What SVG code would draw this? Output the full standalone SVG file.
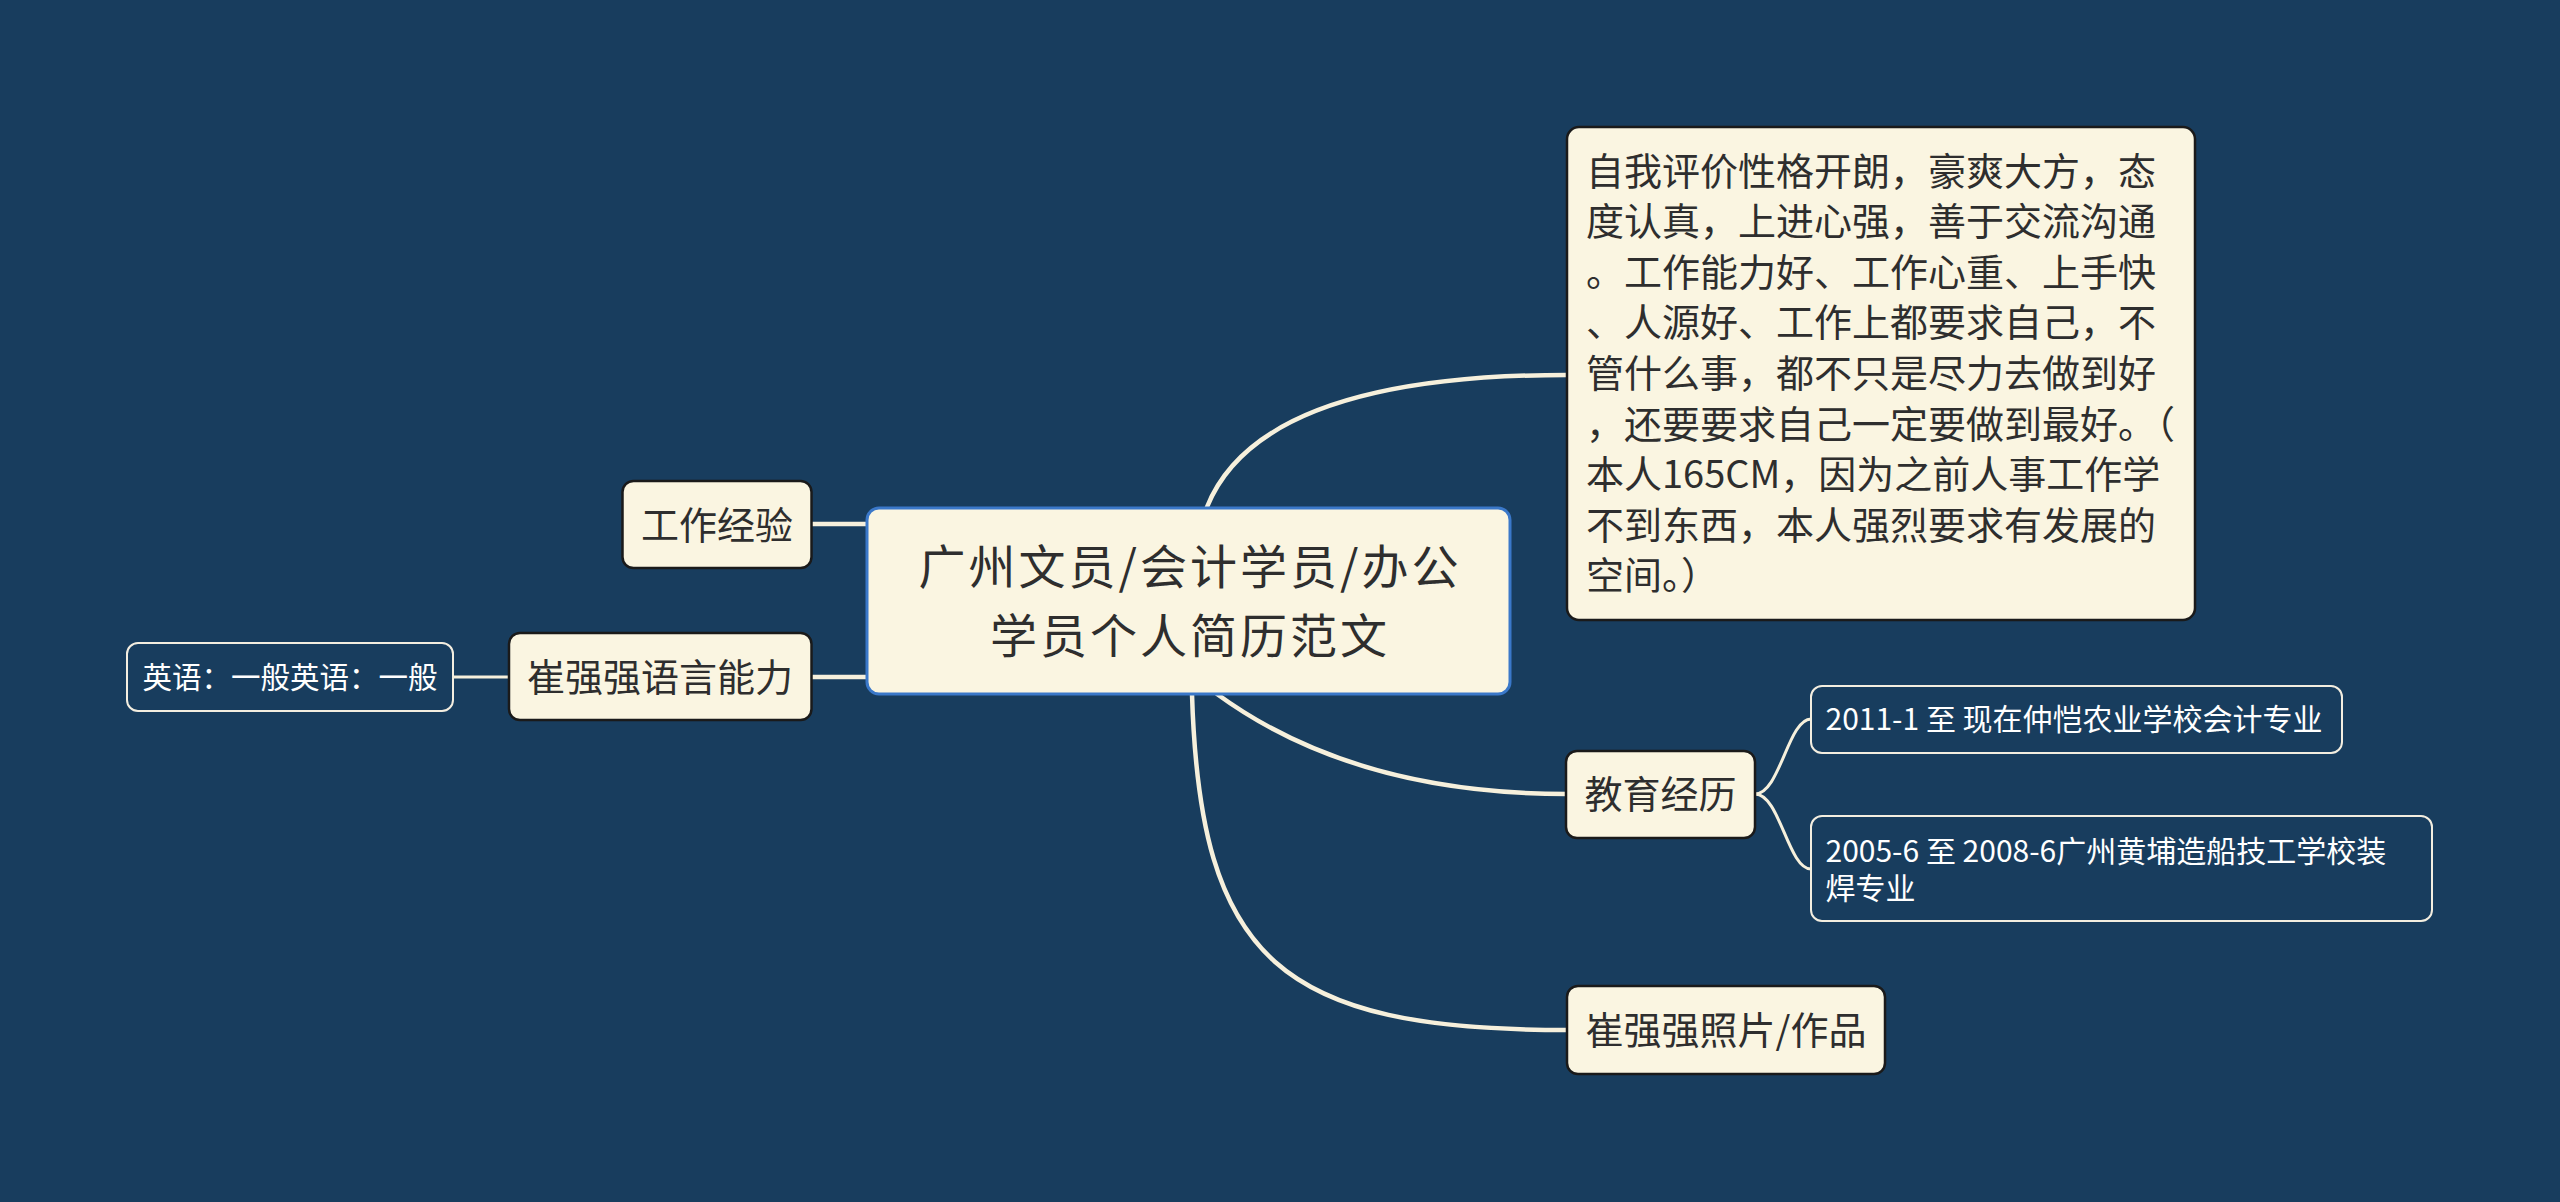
<svg xmlns="http://www.w3.org/2000/svg" width="2560" height="1202" viewBox="0 0 2560 1202">
<defs>
<style>
.bg{fill:#183d5e}
.conn{fill:none;stroke:#f6f0dc;stroke-linecap:round}
.main{stroke-width:4.5}
.sub{stroke-width:3}
.cream rect{fill:#faf5e1;stroke:#1a1a1a;stroke-width:2.5}
.center rect{fill:#faf5e1;stroke:#3a78c9;stroke-width:3}
.dark rect{fill:#183d5e;stroke:#f3eee0;stroke-width:2}
text{font-family:"Noto Sans CJK SC","Noto Sans",sans-serif}
.cream text,.center text{fill:#2e2e2e}
.dark text{fill:#ffffff}
</style>
</defs>
<rect class="bg" x="0" y="0" width="2560" height="1202"/>
<g id="connectors">
<path class="conn main" d="M1207,507 Q1260,375 1567,375"/>
<path class="conn main" d="M1217,694 Q1354,794 1567,794"/>
<path class="conn main" d="M1192,694 C1200,960 1280,1030 1567,1030"/>
<path class="conn main" d="M811,524 L867,524"/>
<path class="conn main" d="M811,677 L867,677"/>
<path class="conn sub" d="M453,677 L509,677"/>
<path class="conn sub" d="M1755,794 C1780,794 1788,719 1811,719"/>
<path class="conn sub" d="M1755,794 C1780,794 1788,869 1811,869"/>
</g>
<g id="node-center" class="center">
<rect x="867" y="508" width="643" height="186" rx="12"/>
<text x="1190" y="584" font-size="47" letter-spacing="3" text-anchor="middle">广州文员/会计学员/办公</text>
<text x="1190" y="653" font-size="47" letter-spacing="3" text-anchor="middle">学员个人简历范文</text>
</g>
<g id="node-self" class="cream">
<rect x="1567" y="127" width="628" height="493" rx="12"/>
<g font-size="38">
<text x="1586" y="184.5">自我评价性格开朗，豪爽大方，态</text>
<text x="1586" y="235.1">度认真，上进心强，善于交流沟通</text>
<text x="1586" y="285.7">。工作能力好、工作心重、上手快</text>
<text x="1586" y="336.3">、人源好、工作上都要求自己，不</text>
<text x="1586" y="386.9">管什么事，都不只是尽力去做到好</text>
<text x="1586" y="437.5">，还要要求自己一定要做到最好。（</text>
<text x="1586" y="488.1">本人165CM，因为之前人事工作学</text>
<text x="1586" y="538.7">不到东西，本人强烈要求有发展的</text>
<text x="1586" y="589.3">空间。）</text>
</g>
</g>
<g id="node-edu" class="cream">
<rect x="1566" y="751" width="189" height="87" rx="11"/>
<text x="1660.5" y="808" font-size="38" text-anchor="middle">教育经历</text>
</g>
<g id="node-edu1" class="dark">
<rect x="1811" y="686" width="531" height="67" rx="11"/>
<text x="1825.5" y="729.5" font-size="30">2011-1 至 现在仲恺农业学校会计专业</text>
</g>
<g id="node-edu2" class="dark">
<rect x="1811" y="816" width="621" height="105" rx="11"/>
<text x="1825.5" y="861.5" font-size="30">2005-6 至 2008-6广州黄埔造船技工学校装</text>
<text x="1825.5" y="899" font-size="30">焊专业</text>
</g>
<g id="node-photo" class="cream">
<rect x="1567" y="986" width="318" height="88" rx="11"/>
<text x="1726" y="1044" font-size="38" text-anchor="middle">崔强强照片/作品</text>
</g>
<g id="node-work" class="cream">
<rect x="622.5" y="481" width="189" height="87" rx="11"/>
<text x="717" y="538.5" font-size="38" text-anchor="middle">工作经验</text>
</g>
<g id="node-lang" class="cream">
<rect x="509" y="633" width="302.5" height="87" rx="11"/>
<text x="660" y="690.5" font-size="38" text-anchor="middle">崔强强语言能力</text>
</g>
<g id="node-english" class="dark">
<rect x="127" y="643" width="326" height="68" rx="11"/>
<text x="290" y="688" font-size="29.5" text-anchor="middle">英语：一般英语：一般</text>
</g>
</svg>
